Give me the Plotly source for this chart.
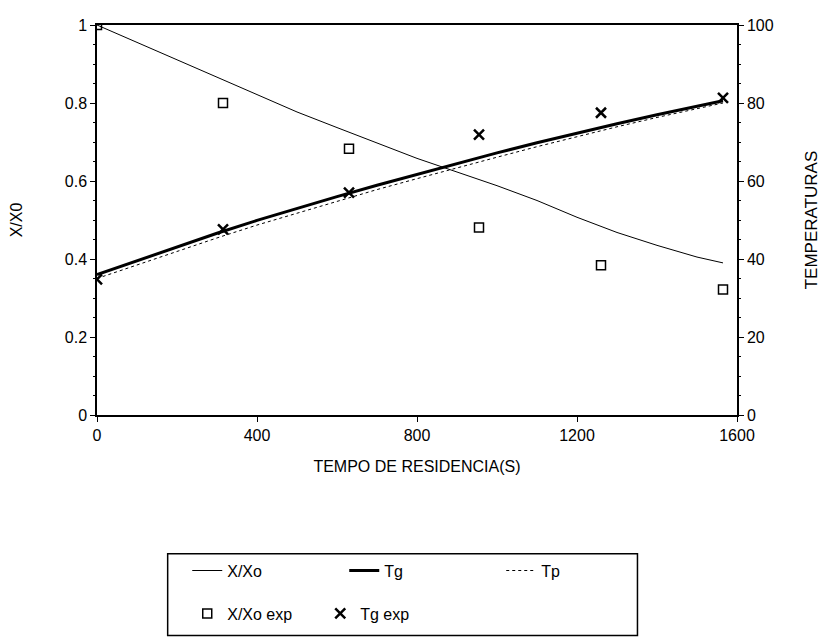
import plotly.graph_objects as go

# Model curves
t_model = [0, 100, 200, 300, 400, 500, 600, 700, 800, 900, 1000, 1100, 1200, 1300, 1400, 1500, 1565]
x_model = [1.0, 0.955, 0.91, 0.865, 0.82, 0.777, 0.737, 0.697, 0.658, 0.623, 0.588, 0.55, 0.507, 0.468, 0.435, 0.405, 0.39]
tg_model = [36.0, 39.6, 43.2, 46.6, 49.9, 53.0, 56.0, 58.9, 61.7, 64.5, 67.2, 69.8, 72.3, 74.7, 77.0, 79.1, 80.6]
tp_model = [35.0, 38.5, 42.0, 45.4, 48.7, 51.8, 54.8, 57.8, 60.6, 63.4, 66.1, 68.8, 71.4, 73.9, 76.3, 78.6, 80.0]

# Experimental points
t_exp = [0, 315, 630, 955, 1260, 1565]
x_exp = [1.0, 0.80, 0.683, 0.481, 0.384, 0.322]
tg_exp = [34.8, 47.6, 57.0, 71.9, 77.5, 81.3]

FONT = "Liberation Sans, Arial, sans-serif"

fig = go.Figure()
fig.add_trace(go.Scatter(x=t_model, y=x_model, mode="lines", name="X/Xo",
                         line=dict(color="black", width=1), legend="legend"))
fig.add_trace(go.Scatter(x=t_model, y=tg_model, mode="lines", name="Tg", yaxis="y2",
                         line=dict(color="black", width=3), legend="legend"))
fig.add_trace(go.Scatter(x=t_model, y=tp_model, mode="lines", name="Tp", yaxis="y2",
                         line=dict(color="black", width=1, dash="dot"), legend="legend"))
fig.add_trace(go.Scatter(x=t_exp, y=x_exp, mode="markers", name="X/Xo exp",
                         marker=dict(symbol="square-open", size=9, color="black", line=dict(width=1.5)),
                         legend="legend2"))
fig.add_trace(go.Scatter(x=t_exp, y=tg_exp, mode="markers", name="Tg exp", yaxis="y2",
                         marker=dict(symbol="x-thin", size=10, color="black", line=dict(width=2.5, color="black")),
                         legend="legend2"))

fig.update_layout(
    width=830, height=643,
    margin=dict(l=97, r=90, t=25, b=227),
    paper_bgcolor="white", plot_bgcolor="white",
    font=dict(family=FONT, size=16, color="black"),
    xaxis=dict(range=[0, 1600], tickvals=[0, 400, 800, 1200, 1600],
               showline=True, linecolor="black", linewidth=1.5, mirror=True,
               ticks="outside", ticklen=5, tickcolor="black", showgrid=False, zeroline=False,
               title=dict(text="TEMPO DE RESIDENCIA(S)", font=dict(size=16), standoff=18),
               tickfont=dict(size=16)),
    yaxis=dict(range=[0, 1], tickvals=[0, 0.2, 0.4, 0.6, 0.8, 1], ticktext=["0", "0.2", "0.4", "0.6", "0.8", "1"],
               showline=True, linecolor="black", linewidth=1.5,
               ticks="outside", ticklen=5, tickcolor="black", showgrid=False, zeroline=False,
               minor=dict(ticks="outside", ticklen=2, dtick=0.05, tickcolor="black"),
               title=dict(text="X/X0", font=dict(size=16), standoff=38),
               tickfont=dict(size=16)),
    yaxis2=dict(range=[0, 100], tickvals=[0, 20, 40, 60, 80, 100], overlaying="y", side="right",
                showline=True, linecolor="black", linewidth=1.5,
                ticks="outside", ticklen=5, tickcolor="black", showgrid=False, zeroline=False,
                minor=dict(ticks="outside", ticklen=2, dtick=5, tickcolor="black"),
                title=dict(text="TEMPERATURAS", font=dict(size=17), standoff=32),
                tickfont=dict(size=16)),
    legend=dict(orientation="h", x=0.141, xanchor="left", y=-0.399, yanchor="middle",
                bgcolor="rgba(0,0,0,0)", borderwidth=0, font=dict(size=16),
                entrywidth=112, entrywidthmode="pixels", itemwidth=30),
    legend2=dict(orientation="h", x=0.141, xanchor="left", y=-0.509, yanchor="middle",
                 bgcolor="rgba(0,0,0,0)", borderwidth=0, font=dict(size=16), itemwidth=30,
                 entrywidth=88, entrywidthmode="pixels"),
    shapes=[dict(type="rect", xref="paper", yref="paper",
                 x0=(168 - 97) / 643, x1=(640 - 97) / 643,
                 y0=(416 - 637) / 391, y1=(416 - 555) / 391,
                 line=dict(color="black", width=1.5))],
    showlegend=True,
)

fig.write_html("out.html")
